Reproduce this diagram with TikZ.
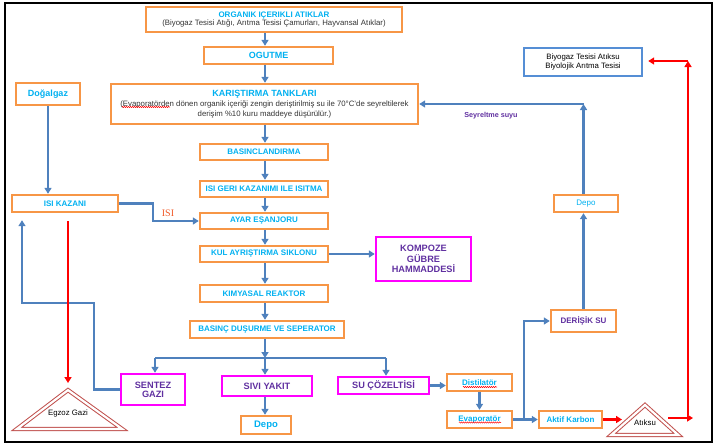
\documentclass[tikz,border=0pt]{standalone}
\usepackage{fontspec}
\setmainfont{Liberation Sans}
\newfontfamily\serifisi{Liberation Serif}
\usetikzlibrary{arrows.meta,calc,decorations.pathmorphing}
\definecolor{cyanT}{HTML}{00B0F0}
\definecolor{orangeB}{HTML}{F79646}
\definecolor{blueA}{HTML}{4F81BD}
\definecolor{bioB}{HTML}{558ED5}
\definecolor{magB}{HTML}{FF00FF}
\definecolor{purpT}{HTML}{6030A0}
\definecolor{redA}{HTML}{FF0000}
\definecolor{triR}{HTML}{C0504D}
\definecolor{isiT}{HTML}{F05A28}
\definecolor{darkT}{HTML}{333333}
\newcommand\mysubfont{\fontsize{7.8}{8}\selectfont\mdseries\color{darkT}}
\begin{document}
\begin{tikzpicture}[x=1pt,y=-1pt,
  obox/.style={draw=orangeB, line width=2.4pt, inner sep=0pt, align=center, text=cyanT, font=\fontsize{8}{9}\selectfont\bfseries},
  mbox/.style={draw=magB, line width=2.4pt, inner sep=0pt, align=center, text=purpT, font=\fontsize{9.2}{10.8}\selectfont\bfseries},
  arr/.style={draw=blueA, line width=2.2pt, -{Triangle[length=6pt,width=7pt]}},
  bline/.style={draw=blueA, line width=2.2pt},
  rarr/.style={draw=redA, line width=2.2pt, -{Triangle[length=6pt,width=7pt]}},
  tri/.style={draw=triR, line width=1pt, double=white, double distance=2.2pt, line join=miter},
  wavy/.style={draw=redA, line width=0.5pt, decorate, decoration={snake, amplitude=0.6pt, segment length=2pt}},
  lbl/.style={inner sep=0pt, text=black, font=\fontsize{7.8}{9}\selectfont}
]
\useasboundingbox (0,0) rectangle (717,445);
\draw[black, line width=1.2pt] (5,3) rectangle (712,442);

% main column
\node[obox, minimum width=256pt, minimum height=25pt] (org) at (274,19.5)
  {ORGANIK IÇERIKLI ATIKLAR\\[-0.7pt]{\mysubfont (Biyogaz Tesisi Atığı, Arıtma Tesisi Çamurları, Hayvansal Atıklar)}};
\node[obox, font=\fontsize{9}{10}\selectfont\bfseries, minimum width=129pt, minimum height=17pt] (ogu) at (268.5,55.5) {OGUTME};
\node[obox, font=\fontsize{9}{10}\selectfont\bfseries, minimum width=64pt, minimum height=22pt] (dog) at (48,94) {Doğalgaz};
\node[obox, font=\fontsize{8}{10}\selectfont\bfseries, minimum width=307pt, minimum height=40pt] (kar) at (264.5,104)
  {{\fontsize{9}{10}\selectfont KARIŞTIRMA TANKLARI}\\[0.6pt]{\mysubfont (Evaporatörden dönen organik içeriği zengin deriştirilmiş su ile 70°C'de seyreltilerek}\\{\mysubfont derişim \%10 kuru maddeye düşürülür.)}};
\node[obox, minimum width=128pt, minimum height=16pt] (bas) at (264,152) {BASINCLANDIRMA};
\node[obox, minimum width=128pt, minimum height=16pt] (isi) at (264,189) {ISI GERI KAZANIMI ILE ISITMA};
\node[obox, minimum width=128pt, minimum height=16pt] (ayar) at (264,221) {AYAR EŞANJORU};
\node[obox, minimum width=128pt, minimum height=16pt] (kul) at (264,254) {KUL AYRIŞTIRMA SIKLONU};
\node[obox, minimum width=128pt, minimum height=17pt] (kim) at (264,293.5) {KIMYASAL REAKTOR};
\node[obox, minimum width=154pt, minimum height=17pt] (bdu) at (267,329.5) {BASINÇ DUŞURME VE SEPERATOR};
\node[obox, minimum width=106pt, minimum height=17pt] (isk) at (65,203.5) {ISI KAZANI};

\node[mbox, minimum width=95pt, minimum height=44pt] (kom) at (423.5,259) {KOMPOZE\\GÜBRE\\HAMMADDESİ};
\node[mbox, minimum width=64pt, minimum height=31pt] (sen) at (153,389.5) {SENTEZ\\[-1.5pt]GAZI};
\node[mbox, minimum width=90pt, minimum height=20pt] (siv) at (267,386) {SIVI YAKIT};
\node[mbox, minimum width=91pt, minimum height=17pt] (suc) at (383.5,385.5) {SU ÇÖZELTİSİ};
\node[obox, text=purpT, font=\fontsize{8}{9}\selectfont\bfseries, minimum width=65pt, minimum height=22pt] (der) at (583.5,321) {DERİŞİK SU};
\node[obox, font=\fontsize{9.5}{10}\selectfont\bfseries, minimum width=50pt, minimum height=18pt] (dep1) at (266,425) {Depo};
\node[obox, font=\fontsize{8}{9}\selectfont, minimum width=64pt, minimum height=17pt] (dep2) at (586,203.5) {Depo};
\node[obox, minimum width=65pt, minimum height=17pt] (dis) at (479.5,382.5) {Distilatör};
\node[obox, minimum width=65pt, minimum height=17pt] (eva) at (479.5,419.5) {Evaporatör};
\node[obox, minimum width=63pt, minimum height=17pt] (akt) at (570.5,419.5) {Aktif Karbon};
\node[draw=bioB, line width=2.4pt, inner sep=0pt, minimum width=118pt, minimum height=28pt, align=center,
  font=\fontsize{7.8}{9.3}\selectfont, text=black] (bio) at (583,62) {Biyogaz Tesisi Atıksu\\Biyolojik Arıtma Tesisi};

% labels
\node[inner sep=0pt, font=\serifisi\fontsize{10}{11}\selectfont, text=isiT] (isilbl) at (168,213) {ISI};
\node[inner sep=0pt, font=\fontsize{7.2}{8}\selectfont\bfseries, text=purpT] (seylbl) at (491,116) {Seyreltme suyu};

% triangles
\draw[tri] (68,390.1) -- (122.2,429) -- (16.8,429) -- cycle;
\draw[tri] (645,405) -- (678.3,435) -- (611.2,435) -- cycle;
\node[lbl] (egz) at (68,413) {Egzoz Gazi};
\node[lbl] (atk) at (645,423) {Atıksu};

% main column arrows
\coordinate (col) at (265,0);
\draw[arr] (org.south -| col) -- (ogu.north -| col);
\draw[arr] (ogu.south -| col) -- (kar.north -| col);
\draw[arr] (kar.south -| col) -- (bas.north -| col);
\draw[arr] (bas.south -| col) -- (isi.north -| col);
\draw[arr] (isi.south -| col) -- (ayar.north -| col);
\draw[arr] (ayar.south -| col) -- (kul.north -| col);
\draw[arr] (kul.south -| col) -- (kim.north -| col);
\draw[arr] (kim.south -| col) -- (bdu.north -| col);

% branch
\coordinate (j) at (265,358);
\coordinate (bl) at (155,358);
\coordinate (br) at (386,358);
\draw[bline] (bl) -- (br);
\draw[arr] (bdu.south -| col) -- (j);
\draw[arr] (j) -- (j |- siv.north);
\draw[arr] (bl) -- (bl |- sen.north);
\draw[arr] (br) -- (br |- suc.north);
\draw[arr] (siv.south -| col) -- (dep1.north -| col);

% side connections
\draw[arr] (kul.east) -- (kul.east -| kom.west);
\draw[arr] (dog.south) -- (dog.south |- isk.north);
\draw[arr] (isk.east) -- ++(34,0) |- (ayar.west);
\coordinate (lft) at (22,303);
\draw[arr, shorten >=7pt] (sen.west) -- ++(-26,0) |- (lft) -- (lft |- isk.south);
\draw[arr] (suc.east) -- (suc.east -| dis.west);
\draw[arr] (dis.south) -- (eva.north);
\draw[arr] (eva.east) -- (akt.west);
\coordinate (evj) at (524,419.5);
\draw[arr] (evj) |- (der.west);
\draw[arr] (der.north) -- (der.north |- dep2.south);
\coordinate (sey) at (583.5,104);
\draw[arr] (der.north |- dep2.north) -- (sey);
\draw[arr] (sey) -- (kar.east);

% red
\coordinate (rs) at (68,221);
\coordinate (egzapex) at (68,383);
\draw[rarr] (rs) -- (egzapex);
\coordinate (atkl) at (622,419.5);
\draw[rarr] (akt.east) -- (atkl);
\coordinate (atkr) at (668,418);
\coordinate (rr) at (693,418);
\draw[rarr] (atkr) -- (rr);
\coordinate (rv) at (688,415);
\coordinate (rtop) at (688,61);
\draw[rarr] (rv) -- (rtop);
\draw[rarr, shorten >=5pt] (rtop) -- (rtop -| bio.east);

% spelling marks
\draw[wavy] (122,107) -- (170,107);
\draw[wavy] (463,387) -- (497,387);
\draw[wavy] (459,422.5) -- (501,422.5);
\end{tikzpicture}
\end{document}
